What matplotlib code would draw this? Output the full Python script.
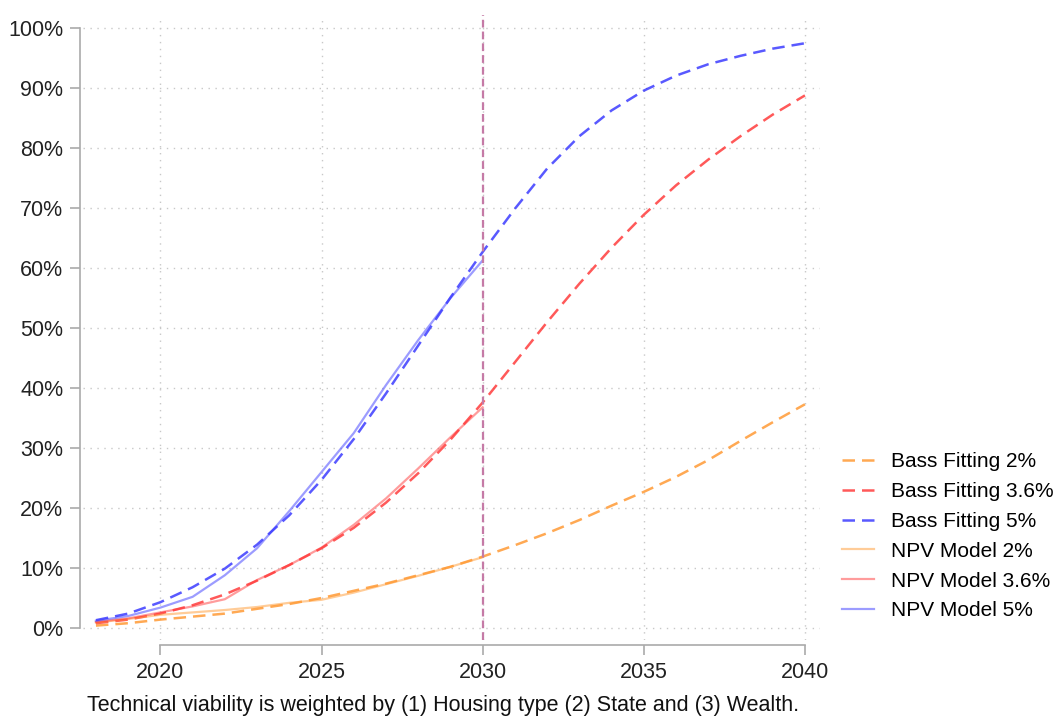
import numpy as np
import matplotlib.pyplot as plt
from matplotlib.ticker import FuncFormatter

plt.rcParams['font.family'] = ['Liberation Sans', 'DejaVu Sans']

# yearly adoption shares (%)
years = list(range(2018, 2041))
bass_2 = [0.4, 0.8, 1.4, 1.9, 2.4, 3.2, 4.0, 5.0, 6.2, 7.4, 8.8, 10.2, 11.9,
          13.8, 15.8, 18.0, 20.4, 22.7, 25.2, 28.0, 31.2, 34.3, 37.3]
bass_36 = [0.8, 1.4, 2.4, 3.8, 5.6, 7.9, 10.5, 13.3, 16.7, 20.9, 25.8, 31.4, 37.6,
           44.3, 51.0, 57.4, 63.4, 68.9, 73.8, 78.1, 82.0, 85.6, 88.8]
bass_5 = [1.3, 2.4, 4.3, 6.8, 9.9, 13.9, 18.8, 24.7, 31.5, 39.1, 47.1, 55.1, 62.7,
          69.9, 76.6, 82.0, 86.3, 89.6, 92.1, 94.0, 95.4, 96.6, 97.5]

npv_years = list(range(2018, 2031))
npv_2 = [0.9, 1.5, 2.2, 2.6, 3.0, 3.5, 4.2, 4.7, 5.9, 7.3, 8.7, 10.2, 11.8]
npv_36 = [1.0, 1.6, 2.6, 3.6, 4.8, 8.0, 10.5, 13.4, 17.2, 21.6, 26.6, 31.8, 36.8]
npv_5 = [1.2, 2.0, 3.4, 5.2, 8.8, 13.3, 19.5, 26.0, 32.5, 40.5, 48.0, 55.0, 61.3]

fig = plt.figure(figsize=(10.62, 7.17), dpi=100)
ax = fig.add_axes([0.0782, 0.1074, 0.694, 0.8716])

dash = (5, 2.8)
ax.plot(years, bass_2, color='#ff8c1a', alpha=0.75, lw=1.8, dashes=dash, label='Bass Fitting 2%')
ax.plot(years, bass_36, color='#ff2222', alpha=0.75, lw=1.8, dashes=dash, label='Bass Fitting 3.6%')
ax.plot(years, bass_5, color='#2222ff', alpha=0.75, lw=1.8, dashes=dash, label='Bass Fitting 5%')
ax.plot(npv_years, npv_2, color='#ff9a33', alpha=0.5, lw=1.6, label='NPV Model 2%')
ax.plot(npv_years, npv_36, color='#ff3a3a', alpha=0.5, lw=1.6, label='NPV Model 3.6%')
ax.plot(npv_years, npv_5, color='#3a3aff', alpha=0.5, lw=1.6, label='NPV Model 5%')

ax.axvline(2030, color='#c57aa6', lw=1.6, dashes=(3.5, 1.8), zorder=5)

ax.set_xlim(2017.6, 2040.47)
ax.set_ylim(-2, 102.2)
ax.set_xticks([2020, 2025, 2030, 2035, 2040])
ax.set_yticks(np.arange(0, 101, 10))
ax.yaxis.set_major_formatter(FuncFormatter(lambda v, p: f'{v:.0f}%'))

ax.grid(True, color='#c8c8c8', lw=1.0, linestyle=(0, (1, 4)))
ax.set_axisbelow(True)

for s in ['top', 'right']:
    ax.spines[s].set_visible(False)
ax.spines['left'].set_position(('outward', 2.2))
ax.spines['bottom'].set_position(('outward', 3.6))
ax.spines['left'].set_bounds(0, 100)
ax.spines['bottom'].set_bounds(2020, 2040)
for s in ['left', 'bottom']:
    ax.spines[s].set_color('#aaaaaa')
    ax.spines[s].set_linewidth(1.2)
ax.tick_params(axis='both', length=7, width=1.2, color='#aaaaaa',
               labelsize=15.5, labelcolor='#222222')
ax.tick_params(axis='y', pad=5)
ax.tick_params(axis='x', pad=5)

ax.set_xlabel('Technical viability is weighted by (1) Housing type (2) State and (3) Wealth.',
              fontsize=15.5, color='#111111', labelpad=9)
ax.xaxis.label.set_x(0.4885)

fig.legend(loc='center left', bbox_to_anchor=(0.775, 0.252), frameon=False,
           fontsize=15, handlelength=1.55, handletextpad=0.8, labelspacing=0.52)

fig.savefig('out.png', dpi=100)
